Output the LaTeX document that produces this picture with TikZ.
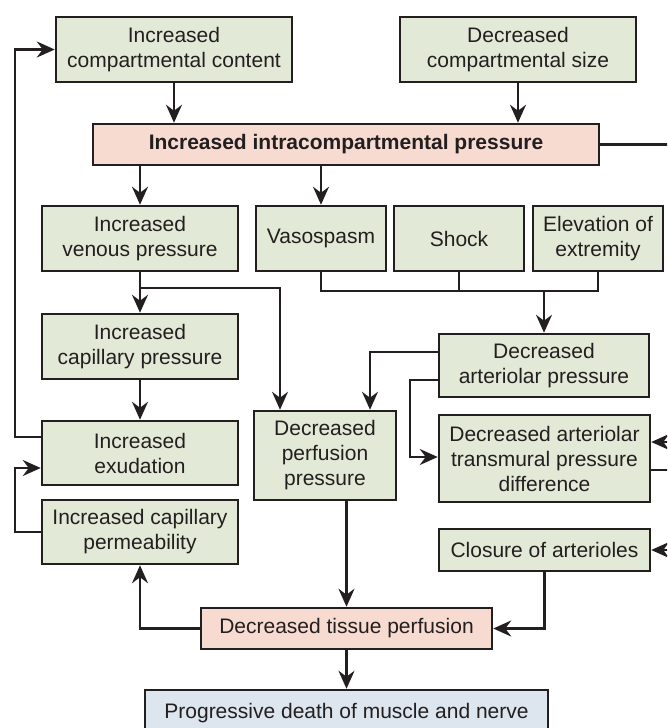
\documentclass[tikz,border=0pt]{standalone}
\usepackage{fontspec}
\setmainfont{Liberation Sans}
\usetikzlibrary{arrows.meta,calc}
\definecolor{gfill}{HTML}{E3E9D7}
\definecolor{pfill}{HTML}{F7DAD0}
\definecolor{bfill}{HTML}{DDE5EE}
\definecolor{bord}{HTML}{231F20}
\begin{document}
\begin{tikzpicture}[x=1pt,y=-1pt,
  box/.style={draw=bord, line width=2.5pt, fill=gfill, align=center, inner sep=0pt,
    font=\fontsize{21}{25}\selectfont, text=bord},
  pbox/.style={box, fill=pfill},
  bbox/.style={box, fill=bfill},
  conn/.style={draw=bord, line width=2.3pt},
  arr/.style={conn, -{Stealth[length=18pt,width=16pt,inset=6pt]}}]
\useasboundingbox (0,0) rectangle (667,728);
\clip (0,0) rectangle (667,728);

% nodes
\node[box, minimum width=236pt, minimum height=65pt] (A) at (174,49.5) {Increased\\compartmental content};
\node[box, minimum width=236pt, minimum height=65pt] (B) at (518,49.5) {Decreased\\compartmental size};
\node[pbox, minimum width=506pt, minimum height=41pt, font=\fontsize{21}{25}\selectfont\bfseries] (P) at (346,144.5) {Increased intracompartmental pressure};
\node[box, minimum width=196pt, minimum height=65pt] (V) at (140,238.5) {Increased\\venous pressure};
\node[box, minimum width=130pt, minimum height=65pt] (Vs) at (321,238.5) {Vasospasm};
\node[box, minimum width=130pt, minimum height=65pt] (Sh) at (459,238.5) {Shock};
\node[box, minimum width=130pt, minimum height=65pt] (El) at (598,238.5) {Elevation of\\extremity};
\node[box, minimum width=196pt, minimum height=65pt] (C) at (140,346.5) {Increased\\capillary pressure};
\node[box, minimum width=210pt, minimum height=63pt] (D) at (544,365.5) {Decreased\\arteriolar pressure};
\node[box, minimum width=196pt, minimum height=64pt] (E) at (140,453) {Increased\\exudation};
\node[box, minimum width=142pt, minimum height=89pt] (G) at (325,455.5) {Decreased\\perfusion\\pressure};
\node[box, minimum width=211pt, minimum height=87pt] (H) at (544.5,458.5) {Decreased arteriolar\\transmural pressure\\difference};
\node[box, minimum width=196pt, minimum height=64pt] (F) at (140,532) {Increased capillary\\permeability};
\node[box, minimum width=211pt, minimum height=42pt] (K) at (544.5,550) {Closure of arterioles};
\node[pbox, minimum width=291pt, minimum height=41pt] (T) at (346.5,628.5) {Decreased tissue perfusion};
\node[bbox, minimum width=403pt, minimum height=46pt] (X) at (346.5,713) {Progressive death of muscle and nerve};

% junction / off-page coordinates
\coordinate (m) at (544,291);
\coordinate (R1) at (690,0);
\coordinate (R2) at (680,0);

% connectors
\draw[arr] (A.south) -- (A.south|-P.north);
\draw[arr] (B.south) -- (B.south|-P.north);
\draw[arr] (P.south-|V.north) -- (V.north);
\draw[arr] (P.south-|Vs.north) -- (Vs.north);

\draw[conn] (Vs.south) |- (m);
\draw[conn] (Sh.south) -- (Sh.south|-m);
\draw[conn] (El.south) |- (m);
\draw[arr] (m) -- (m|-D.north);

\draw[arr] (V.south) -- (C.north);
\draw[arr] ($(V.south)+(0,16)$) -| ([xshift=-45pt]G.north);
\draw[arr] (C.south) -- (E.north);

\draw[arr] ([yshift=13.5pt]D.west) -| ([xshift=45pt]G.north);
\draw[arr] ([yshift=-14.5pt]D.west) -- ++(-28,0) |- ([yshift=1.5pt]H.west);

\draw[arr] ([yshift=16pt]E.west) -- ++(-26,0) |- (A.west);
\draw[arr] (F.west) -- ++(-26,0) |- ([yshift=-15pt]E.west);

\draw[arr] (G.south-|T.north) -- (T.north);
\draw[arr] (T.west) -| (F.south);
\draw[arr] (K.south) |- (T.east);
\draw[arr] (T.south) -- (X.north);

\draw[arr] (P.east) -- (P.east-|R1) |- ([yshift=16.5pt]H.east);
\draw[arr] ([yshift=-11.5pt]H.east) -| (K.east-|R2) -- (K.east);
\end{tikzpicture}
\end{document}
